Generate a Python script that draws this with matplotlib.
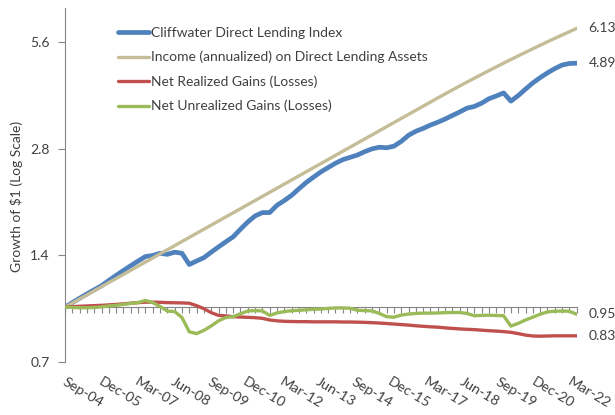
import matplotlib.pyplot as plt
import matplotlib.transforms as mtransforms
from matplotlib.ticker import NullLocator
import numpy as np

plt.rcParams['font.family'] = ['Lato', 'DejaVu Sans']

# quarterly, Sep-04 .. Mar-22 (71 points)
tick_labels = ['Sep-04', 'Dec-05', 'Mar-07', 'Jun-08', 'Sep-09', 'Dec-10', 'Mar-12',
               'Jun-13', 'Sep-14', 'Dec-15', 'Mar-17', 'Jun-18', 'Sep-19', 'Dec-20', 'Mar-22']

index_vals = [1.00, 1.03, 1.06, 1.09, 1.12, 1.15, 1.19, 1.23, 1.27, 1.31,
              1.35, 1.39, 1.40, 1.42, 1.41, 1.43, 1.42, 1.32, 1.35, 1.38,
              1.43, 1.48, 1.53, 1.58, 1.66, 1.74, 1.81, 1.85, 1.85, 1.94,
              2.00, 2.07, 2.16, 2.25, 2.33, 2.41, 2.48, 2.55, 2.61, 2.65,
              2.69, 2.75, 2.80, 2.83, 2.82, 2.85, 2.94, 3.06, 3.14, 3.20,
              3.27, 3.33, 3.40, 3.48, 3.56, 3.65, 3.69, 3.77, 3.88, 3.95,
              4.03, 3.82, 3.96, 4.13, 4.30, 4.45, 4.59, 4.72, 4.83, 4.88,
              4.89]

income_vals = [1.000, 1.027, 1.055, 1.083, 1.113, 1.143, 1.174, 1.205, 1.238, 1.271,
               1.306, 1.341, 1.377, 1.415, 1.453, 1.492, 1.533, 1.574, 1.617, 1.660,
               1.705, 1.751, 1.799, 1.847, 1.897, 1.949, 2.001, 2.055, 2.111, 2.168,
               2.227, 2.287, 2.349, 2.412, 2.478, 2.545, 2.613, 2.684, 2.757, 2.831,
               2.908, 2.986, 3.067, 3.150, 3.235, 3.323, 3.413, 3.505, 3.600, 3.697,
               3.797, 3.900, 4.003, 4.109, 4.216, 4.324, 4.434, 4.546, 4.659, 4.774,
               4.890, 5.008, 5.128, 5.248, 5.370, 5.494, 5.619, 5.745, 5.872, 6.000,
               6.130]

realized_vals = [1.000, 1.003, 1.006, 1.008, 1.010, 1.012, 1.015, 1.018, 1.022, 1.026,
                 1.030, 1.033, 1.033, 1.032, 1.030, 1.029, 1.028, 1.026, 1.010, 0.990,
                 0.965, 0.948, 0.945, 0.940, 0.938, 0.936, 0.934, 0.930, 0.920, 0.915,
                 0.912, 0.911, 0.910, 0.910, 0.909, 0.909, 0.909, 0.909, 0.908, 0.908,
                 0.907, 0.906, 0.904, 0.902, 0.899, 0.896, 0.893, 0.890, 0.886, 0.883,
                 0.880, 0.878, 0.874, 0.871, 0.868, 0.866, 0.864, 0.861, 0.858, 0.856,
                 0.853, 0.849, 0.842, 0.834, 0.829, 0.828, 0.829, 0.830, 0.830, 0.830,
                 0.830]

unrealized_vals = [1.000, 0.998, 0.996, 0.996, 0.998, 1.002, 1.008, 1.012, 1.018, 1.025,
                   1.030, 1.045, 1.030, 1.005, 0.975, 0.972, 0.935, 0.852, 0.842, 0.860,
                   0.885, 0.915, 0.935, 0.940, 0.958, 0.975, 0.978, 0.976, 0.948, 0.963,
                   0.972, 0.977, 0.980, 0.983, 0.986, 0.988, 0.992, 0.995, 0.995, 0.993,
                   0.980, 0.978, 0.976, 0.960, 0.940, 0.937, 0.950, 0.956, 0.960, 0.962,
                   0.962, 0.963, 0.965, 0.966, 0.966, 0.960, 0.946, 0.948, 0.949, 0.947,
                   0.946, 0.884, 0.900, 0.920, 0.937, 0.955, 0.970, 0.974, 0.975, 0.974,
                   0.955]

series_names = ['Cliffwater Direct Lending Index',
                'Income (annualized) on Direct Lending Assets',
                'Net Realized Gains (Losses)',
                'Net Unrealized Gains (Losses)']
end_labels = ['4.89', '6.13', '0.83', '0.95']

colors = ['#4F81BD', '#C4BD97', '#C0504D', '#9BBB59']
widths = [3.4, 2.4, 2.4, 2.4]
gray = '#868686'
txt = '#404040'

fig = plt.figure(figsize=(6.15, 4.15), dpi=100)
ax = fig.add_axes([0.1057, 0.1277, 0.832, 0.853])

q = np.arange(len(index_vals))
all_series = [index_vals, income_vals, realized_vals, unrealized_vals]
for vals, name, c, w, lab in zip(all_series, series_names, colors, widths, end_labels):
    ax.plot(q, vals, color=c, lw=w, label=name, zorder=3, solid_capstyle='round')
    ax.text(q[-1] + 1.6, vals[-1], lab, va='center', ha='left', fontsize=10,
            color=txt, clip_on=False)

ax.set_yscale('log')
ax.set_ylim(0.7, 7.0)
ax.set_xlim(0, 70)
ax.set_yticks([0.7, 1.4, 2.8, 5.6])
ax.set_yticklabels(['0.7', '1.4', '2.8', '5.6'])
ax.yaxis.set_minor_locator(NullLocator())
ax.tick_params(axis='y', length=5, color=gray, labelsize=10, labelcolor=txt, pad=6)

ax.spines['top'].set_visible(False)
ax.spines['right'].set_visible(False)
ax.spines['left'].set_color(gray)
ax.spines['bottom'].set_color(gray)
ax.spines['bottom'].set_position(('data', 1.0))
ax.set_xticks(q)
ax.set_xticklabels([])
ax.xaxis.set_minor_locator(NullLocator())
ax.tick_params(axis='x', length=4, color=gray, direction='out')

# date labels sit below the plot, slightly tighter than the quarter ticks
trans = mtransforms.blended_transform_factory(ax.transData, ax.transAxes)
for k, lab in enumerate(tick_labels):
    ax.text(k * 4.93 + 0.3, -0.038, lab, transform=trans, rotation=-31,
            rotation_mode='anchor', ha='left', va='top', fontsize=10.3, color=txt)

fig.text(17 / 615, 1 - 196 / 415, 'Growth of \\$1 (Log Scale)', rotation=90,
         va='center', ha='center', fontsize=10, color=txt)

ax.legend(loc='upper left', bbox_to_anchor=(118 / 615, 1 - 27 / 415),
          bbox_transform=fig.transFigure, frameon=False, fontsize=10,
          handlelength=2.2, handletextpad=0.15, labelspacing=0.86,
          borderpad=0, borderaxespad=0, labelcolor=txt)

fig.savefig('out.png', dpi=100)
